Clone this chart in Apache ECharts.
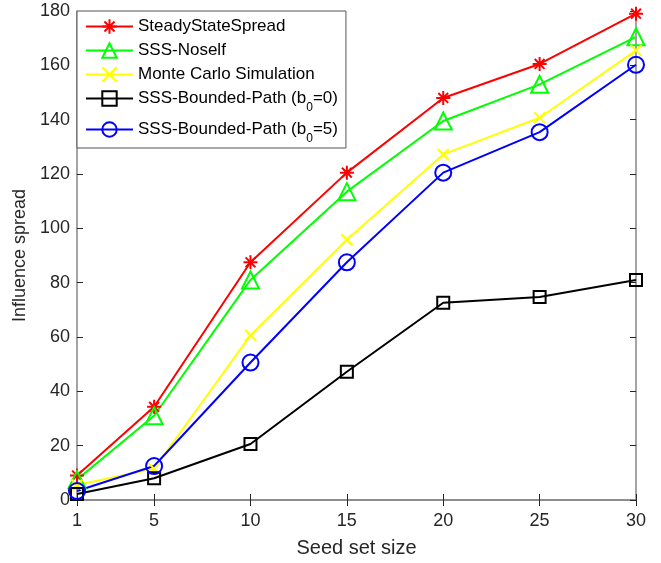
<!DOCTYPE html>
<html>
<head>
<meta charset="utf-8">
<script src="https://cdn.jsdelivr.net/npm/echarts@6/dist/echarts.min.js"></script>
<style>html,body{margin:0;padding:0;background:#fff}#c{width:661px;height:563px}</style>
</head>
<body>
<div id="c"></div>
<script>
var seedSizes = [1, 5, 10, 15, 20, 25, 30];
var xTicks = [1, 5, 10, 15, 20, 25, 30];
var seriesNames = ['SteadyStateSpread', 'SSS-Noself', 'Monte Carlo Simulation', 'SSS-Bounded-Path (b0=0)', 'SSS-Bounded-Path (b0=5)'];
var steadyState = [9, 34.3, 87.5, 120.5, 148, 160.5, 179];
var sssNoself = [7.5, 31, 81, 113.5, 139.5, 153, 170.5];
var monteCarlo = [5.5, 11.5, 60.6, 95.8, 127.2, 140.7, 165.5];
var boundedB0 = [2.2, 8, 20.6, 47.2, 72.6, 74.7, 81];
var boundedB5 = [3.3, 12.5, 50.6, 87.5, 120.5, 135.4, 160.2];

function pairs(vals) { return seedSizes.map(function (x, i) { return [x, vals[i]]; }); }

var asterisk = 'path://M5 0L5 10M0 5L10 5M1.5 1.5L8.5 8.5M8.5 1.5L1.5 8.5';
var cross = 'path://M0 0L10 10M10 0L0 10';
var tri = 'path://M5 0L10 9L0 9Z';
var sq = 'path://M0 0L10 0L10 10L0 10Z';
var circ = 'path://M10 5A5 5 0 1 1 0 5A5 5 0 1 1 10 5Z';

function mk(name, vals, color, symbol, size) {
  return {
    name: name, type: 'line', data: pairs(vals),
    symbol: symbol, symbolSize: size, showAllSymbol: true,
    lineStyle: { color: color, width: 2 },
    itemStyle: { color: 'rgba(0,0,0,0)', borderColor: color, borderWidth: 2 },
    emphasis: { disabled: true },
    animation: false, z: 3
  };
}

var axisColor = '#868686';
var labelColor = '#262626';
var font = 'Liberation Sans, Arial, Helvetica, sans-serif';

var chart = echarts.init(document.getElementById('c'));
chart.setOption({
  backgroundColor: '#fff',
  animation: false,
  grid: { left: 77, right: 25, top: 11, bottom: 61 },
  legend: {
    orient: 'vertical', left: 77, top: 11, z: 10,
    backgroundColor: '#fff', borderColor: '#555', borderWidth: 1,
    padding: [7, 8, 3, 8], itemGap: 7, itemWidth: 47, itemHeight: 18,
    data: seriesNames,
    formatter: function (n) {
      if (n === seriesNames[3]) return '{u|SSS-Bounded-Path (b}{s|0}{u|=0)}';
      if (n === seriesNames[4]) return '{u|SSS-Bounded-Path (b}{s|0}{u|=5)}';
      return '{t|' + n + '}';
    },
    textStyle: {
      color: '#000', fontFamily: font, fontSize: 17,
      rich: {
        t: { fontSize: 17, lineHeight: 18, fontFamily: font, color: '#000' },
        u: { fontSize: 17, lineHeight: 21, fontFamily: font, color: '#000' },
        s: { fontSize: 12, lineHeight: 12, fontFamily: font, color: '#000', verticalAlign: 'bottom', padding: [0, 0, -5, 0] }
      }
    }
  },
  xAxis: [{
    type: 'value', min: 1, max: 30, position: 'bottom',
    name: 'Seed set size', nameLocation: 'middle', nameGap: 38,
    nameTextStyle: { color: labelColor, fontSize: 20, fontFamily: font },
    axisLine: { show: true, lineStyle: { color: axisColor, width: 1.5 } },
    axisTick: { show: true, inside: true, length: 6, customValues: xTicks, lineStyle: { color: labelColor } },
    axisLabel: { color: labelColor, fontSize: 18, fontFamily: font, margin: 12, customValues: xTicks },
    splitLine: { show: false }
  }, {
    type: 'value', min: 1, max: 30, position: 'top',
    axisLine: { show: true, lineStyle: { color: axisColor, width: 1.5 } },
    axisTick: { show: true, inside: true, length: 6, customValues: xTicks, lineStyle: { color: labelColor } },
    axisLabel: { show: false, customValues: xTicks },
    splitLine: { show: false }
  }],
  yAxis: [{
    type: 'value', min: 0, max: 180, interval: 20, position: 'left',
    name: 'Influence spread', nameLocation: 'middle', nameGap: 46,
    nameTextStyle: { color: labelColor, fontSize: 18, fontFamily: font },
    axisLine: { show: true, lineStyle: { color: axisColor, width: 1.5 } },
    axisTick: { show: true, inside: true, length: 6, lineStyle: { color: labelColor } },
    axisLabel: { color: labelColor, fontSize: 18, fontFamily: font, margin: 7 },
    splitLine: { show: false }
  }, {
    type: 'value', min: 0, max: 180, interval: 20, position: 'right',
    axisLine: { show: true, lineStyle: { color: axisColor, width: 1.5 } },
    axisTick: { show: true, inside: true, length: 6, lineStyle: { color: labelColor } },
    axisLabel: { show: false },
    splitLine: { show: false }
  }],
  series: [
    mk(seriesNames[0], steadyState, '#ff0000', asterisk, 14),
    mk(seriesNames[1], sssNoself, '#00ff00', tri, 17),
    mk(seriesNames[2], monteCarlo, '#ffff00', cross, 11),
    mk(seriesNames[3], boundedB0, '#000000', sq, 12),
    mk(seriesNames[4], boundedB5, '#0000ff', circ, 16)
  ]
});
</script>
</body>
</html>
